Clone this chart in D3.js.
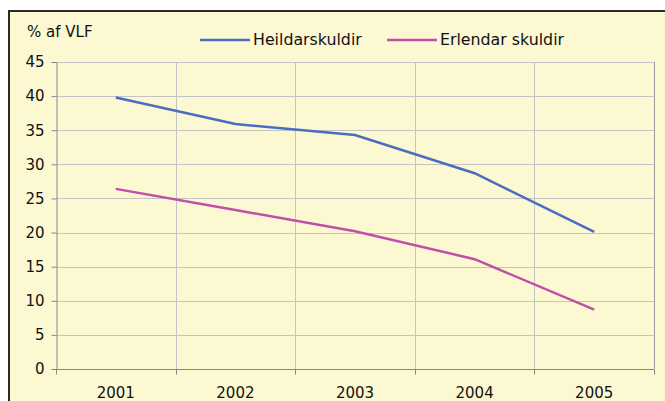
<!DOCTYPE html>
<html>
<head>
<meta charset="utf-8">
<script src="https://cdn.jsdelivr.net/npm/d3@7"></script>
<style>
  body { margin: 0; background: #fff; }
  svg text { font-family: "DejaVu Sans", Verdana, sans-serif; font-size: 15px; fill: #111; }
</style>
</head>
<body>
<div id="chart"></div>
<script>
var years = ["2001", "2002", "2003", "2004", "2005"];
var heildar = [39.8, 35.9, 34.3, 28.7, 20.1];
var erlendar = [26.4, 23.3, 20.2, 16.1, 8.7];
var yTicks = [0, 5, 10, 15, 20, 25, 30, 35, 40, 45];

var series = [
    { name: "Heildarskuldir", values: heildar, color: "#4a6ebf" },
    { name: "Erlendar skuldir", values: erlendar, color: "#bf50aa" }
];

var W = 665, H = 401;
var margin = { left: 56, right: 10, top: 62, bottom: 32 };
var width = 654 - margin.left;
var height = 369 - margin.top;

var svg = d3.select("#chart").append("svg")
    .attr("width", W)
    .attr("height", H);

// frame
svg.append("rect")
    .attr("x", 9).attr("y", 11)
    .attr("width", 700).attr("height", 420)
    .attr("fill", "#fcf8d2")
    .attr("stroke", "#2a2a2a")
    .attr("stroke-width", 2);

var g = svg.append("g")
    .attr("transform", "translate(" + margin.left + "," + margin.top + ")");

var x = d3.scaleBand().domain(years).range([0, width]);
var y = d3.scaleLinear().domain([0, 45]).range([height, 0]);

// horizontal grid
g.selectAll(".hgrid")
    .data(yTicks.slice(1)).enter()
    .append("line")
    .attr("x1", 0).attr("x2", width)
    .attr("y1", function(d){ return Math.round(y(d)) + 0.5 })
    .attr("y2", function(d){ return Math.round(y(d)) + 0.5 })
    .attr("stroke", "#c4c4c4");

// vertical grid at band boundaries
var bounds = years.slice(1).map(function(d){ return x(d) }).concat([width]);
g.selectAll(".vgrid")
    .data(bounds).enter()
    .append("line")
    .attr("x1", function(d){ return Math.round(d) + 0.5 })
    .attr("x2", function(d){ return Math.round(d) + 0.5 })
    .attr("y1", 0).attr("y2", height)
    .attr("stroke", "#c4c4c4");

// right edge of plot a bit darker
g.append("line")
    .attr("x1", width + 0.5).attr("x2", width + 0.5)
    .attr("y1", 0).attr("y2", height)
    .attr("stroke", "#9a9a9a");

// y axis
var yAxis = d3.axisLeft(y).tickValues(yTicks).tickSize(5).tickPadding(7);
var ya = g.append("g").attr("transform", "translate(0.5,0)").call(yAxis);
ya.select(".domain").attr("stroke", "#888");
ya.selectAll(".tick line").attr("stroke", "#888");
ya.selectAll("text").style("font-size", "15px").attr("fill", "#111");

// x axis
var xa = g.append("g").attr("transform", "translate(0," + (height + 0.5) + ")");
xa.append("line").attr("x1", 0).attr("x2", width).attr("stroke", "#888");
xa.selectAll(".xtick")
    .data([0].concat(bounds)).enter()
    .append("line")
    .attr("x1", function(d){ return Math.round(d) + 0.5 })
    .attr("x2", function(d){ return Math.round(d) + 0.5 })
    .attr("y1", 0).attr("y2", 5)
    .attr("stroke", "#888");
xa.selectAll(".xlab")
    .data(years).enter()
    .append("text")
    .attr("x", function(d){ return x(d) + x.bandwidth() / 2 })
    .attr("y", 28)
    .style("text-anchor", "middle")
    .text(function(d){ return d });

// lines
var line = d3.line()
    .x(function(d, i){ return x(years[i]) + x.bandwidth() / 2 })
    .y(function(d){ return y(d) });

g.selectAll(".series")
    .data(series).enter()
    .append("path")
    .attr("d", function(d){ return line(d.values) })
    .attr("fill", "none")
    .attr("stroke", function(d){ return d.color })
    .attr("stroke-width", 2.5);

// y label
svg.append("text")
    .attr("x", 27).attr("y", 37)
    .text("% af VLF");

// legend
var legend = [
    { x: 200, tx: 253 },
    { x: 387, tx: 440 }
];
series.forEach(function(s, i){
    svg.append("line")
        .attr("x1", legend[i].x).attr("x2", legend[i].x + 50)
        .attr("y1", 40).attr("y2", 40)
        .attr("stroke", s.color)
        .attr("stroke-width", 2.5);
    svg.append("text")
        .attr("x", legend[i].tx).attr("y", 45)
        .style("font-size", "15.8px")
        .text(s.name);
});
</script>
</body>
</html>
